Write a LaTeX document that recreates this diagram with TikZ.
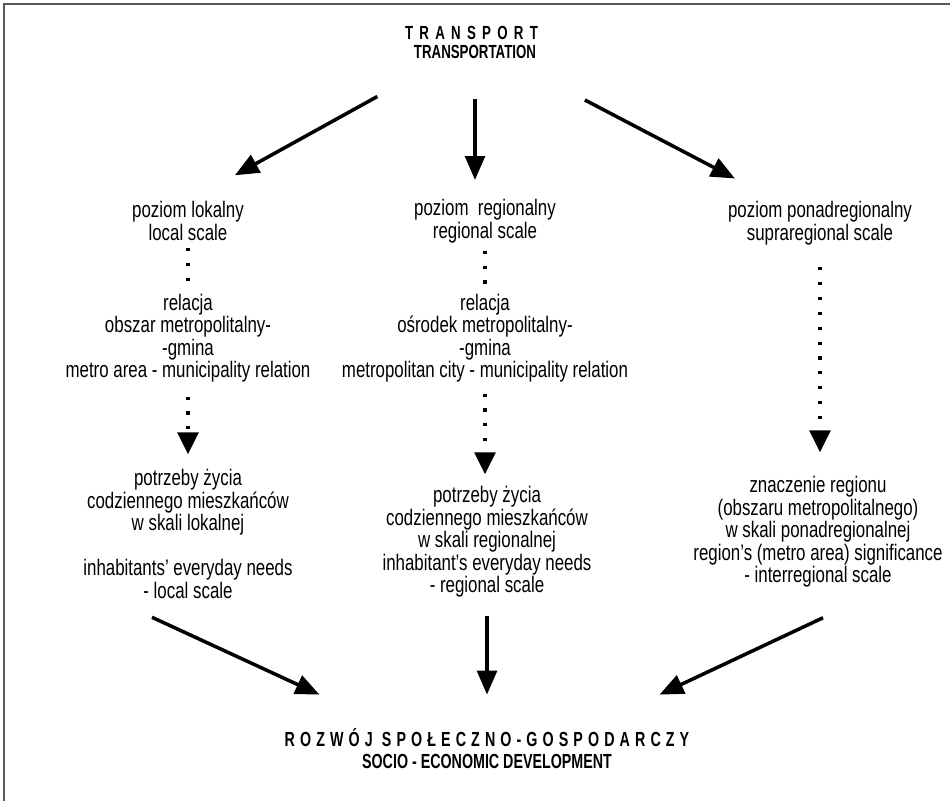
\documentclass[tikz,border=0pt]{standalone}
\usepackage{fontspec}
\setmainfont{Liberation Sans}[FakeStretch=0.75]
\newfontfamily\headfont{Liberation Sans}[FakeStretch=0.7]
\usetikzlibrary{arrows.meta}

\begin{document}
\begin{tikzpicture}[x=0.025cm, y=-0.025cm,
    txt/.style={align=center, inner sep=0pt, font=\fontsize{16pt}{16pt}\selectfont},
    head/.style={align=center, inner sep=0pt, font=\headfont\fontsize{13.5pt}{13.5pt}\selectfont\bfseries},
    bigarrow/.style={line width=2.5pt, -{Triangle[width=14pt, length=17pt]}},
    dots/.style={line width=2.2pt, dash pattern=on 2.2pt off 8.4pt},
    dotarrow/.style={dots, -{Triangle[width=15pt, length=15.6pt]}}]
    \useasboundingbox (0,0) rectangle (950,801);
    \draw [line width=1.4pt, black!65] (4,801) -- (4,4) -- (950,4);

    \node [head] (transport) at (475,42.5) {\hspace*{-5pt}{\addfontfeature{LetterSpace=33}TRANSPORT}\\TRANSPORTATION};

    \node [txt] (local) at (188,221) {poziom lokalny\\local scale};
    \node [txt] (relLocal) at (188,338) {relacja\\obszar metropolitalny-\\-gmina\\metro area - municipality relation};
    \node [txt] (needsLocal) at (188,534) {potrzeby życia\\codziennego mieszkańców\\w skali lokalnej\\\mbox{}\\inhabitants’ everyday needs\\- local scale};

    \node [txt] (regional) at (485,221) {poziom\ \ regionalny\\regional scale};
    \node [txt] (relRegional) at (485,338) {relacja\\ośrodek metropolitalny-\\-gmina\\metropolitan city - municipality relation};
    \node [txt] (needsRegional) at (487,542) {potrzeby życia\\codziennego mieszkańców\\w skali regionalnej\\inhabitant’s everyday needs\\- regional scale};

    \node [txt] (supra) at (820,223) {poziom ponadregionalny\\supraregional scale};
    \node [txt] (significance) at (818,532) {znaczenie regionu\\(obszaru metropolitalnego)\\w skali ponadregionalnej\\region’s (metro area) significance\\- interregional scale};

    \node [head, font=\headfont\fontsize{14.5pt}{15.6pt}\selectfont\bfseries] (development) at (487,749)
      {{\addfontfeature{LetterSpace=25}ROZWÓJ SPOŁECZNO-GOSPODARCZY}\\SOCIO - ECONOMIC DEVELOPMENT};

    % top level
    \draw [bigarrow, shorten <=2.79cm, shorten >=1.34cm] (transport.center) -- (local.north);
    \draw [bigarrow, shorten <=1cm, shorten >=0.475cm] (transport.south) -- (transport.south |- regional.north);
    \draw [bigarrow, shorten <=3.1cm, shorten >=2.4cm] (transport.center) -- (supra.center);

    % dotted chains
    \draw [dots, shorten <=0.19cm, shorten >=0.05cm] (local) -- (relLocal);
    \draw [dotarrow, shorten <=0.35cm, shorten >=0.375cm] (relLocal) -- (needsLocal);
    \draw [dots, shorten <=0.19cm, shorten >=0.05cm] (regional) -- (relRegional);
    \draw [dotarrow, shorten <=0.275cm, shorten >=0.3cm] (relRegional) -- (relRegional |- needsRegional.north);
    \draw [dotarrow, shorten <=0.55cm, shorten >=0.6cm] (supra.south) -- (supra.south |- significance.north);

    % to the bottom
    \draw [bigarrow] ([shift={(-36,18.5)}]needsLocal.south) -- ([shift={(35,-34)}]development.north west);
    \draw [bigarrow, shorten <=0.45cm, shorten >=0.85cm] (needsRegional.south) -- (needsRegional.south |- development.north);
    \draw [bigarrow] ([shift={(5,30)}]significance.south) -- ([shift={(-30,-34)}]development.north east);
  \end{tikzpicture}
\end{document}
